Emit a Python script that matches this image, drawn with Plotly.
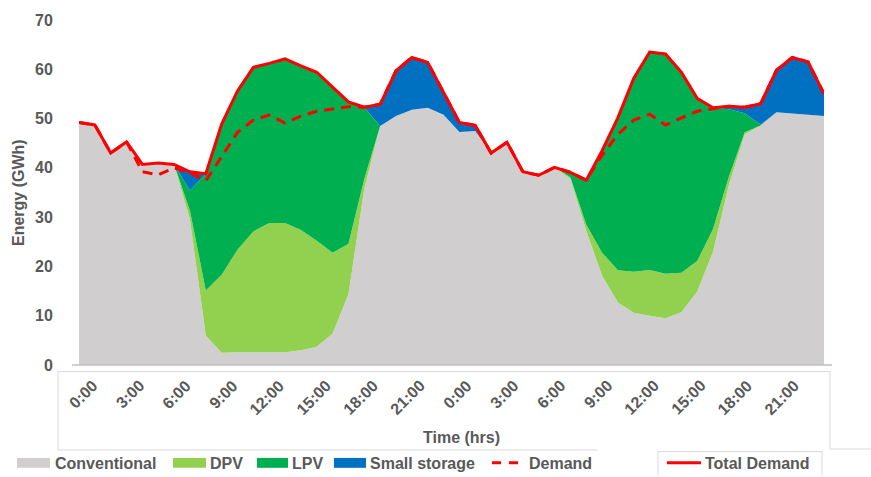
import plotly.graph_objects as go

# ---------------- data (GWh), 48 hourly points over two days ----------------
hours = list(range(48))
tick_labels = ["0:00", "3:00", "6:00", "9:00", "12:00", "15:00", "18:00", "21:00",
               "0:00", "3:00", "6:00", "9:00", "12:00", "15:00", "18:00", "21:00"]
tick_hours = [0, 3, 6, 9, 12, 15, 18, 21, 24, 27, 30, 33, 36, 39, 42, 45]

conventional = [49.2, 48.7, 43.0, 45.3, 40.7, 41.0, 40.7, 29.5, 6.0, 2.5,
                2.6, 2.6, 2.6, 2.6, 3.0, 3.7, 6.4, 14.4, 35.8, 48.5,
                50.5, 51.8, 52.2, 50.8, 47.3, 47.5, 43.0, 45.2, 39.2, 38.5,
                40.1, 37.8, 27.3, 18.1, 12.7, 10.6, 10.0, 9.5, 10.7, 14.9,
                23.0, 36.5, 46.8, 48.6, 51.3, 51.0, 50.8, 50.5]
dpv = [0, 0, 0, 0, 0, 0, 0, 1.8, 9.1, 15.8,
       20.8, 24.5, 26.2, 26.2, 24.4, 21.5, 16.4, 10.2, 2.0, 0,
       0, 0, 0, 0, 0, 0, 0, 0, 0, 0,
       0, 0.3, 1.2, 4.7, 6.5, 8.3, 9.3, 9.0, 8.0, 6.2,
       4.6, 1.7, 0.4, 0, 0, 0, 0, 0]
lpv = [0, 0, 0, 0, 0, 0, 0, 4.1, 23.7, 30.6,
       32.2, 33.3, 32.4, 33.3, 33.3, 34.2, 33.6, 28.8, 14.5, 0,
       0, 0, 0, 0, 0, 0, 0, 0, 0, 0,
       0, 1.0, 9.0, 20.7, 31.0, 39.3, 44.2, 44.6, 40.7, 33.0,
       24.6, 13.7, 3.9, 0.2, 0, 0, 0, 0]
small_storage = [0, 0, 0, 0, 0, 0, 0, 3.8, 0, 0,
                 0, 0, 0, 0, 0, 0, 0, 0, 0, 4.4,
                 9.2, 10.6, 9.2, 4.6, 1.9, 1.1, 0, 0, 0, 0,
                 0, 0, 0, 0, 0, 0, 0, 0, 0, 0,
                 0, 0.6, 1.2, 4.2, 8.5, 11.4, 10.7, 4.5]
total_demand = [49.2, 48.7, 43.0, 45.3, 40.7, 41.0, 40.7, 39.2, 38.8, 48.9,
                55.6, 60.4, 61.2, 62.1, 60.7, 59.4, 56.4, 53.4, 52.3, 52.9,
                59.7, 62.4, 61.4, 55.4, 49.2, 48.6, 43.0, 45.2, 39.2, 38.5,
                40.1, 39.1, 37.5, 43.5, 50.2, 58.2, 63.5, 63.1, 59.4, 54.1,
                52.2, 52.5, 52.3, 53.0, 59.8, 62.4, 61.5, 55.0]
demand = [49.2, 48.7, 43.0, 45.3, 39.2, 38.6, 40.0, 39.0, 37.4, 42.2,
          47.2, 49.7, 50.7, 49.1, 50.5, 51.5, 52.0, 52.4, 52.3, 52.9,
          59.7, 62.4, 61.4, 55.4, 49.2, 48.6, 43.0, 45.2, 39.2, 38.5,
          40.1, 39.1, 37.5, 42.6, 46.8, 49.7, 50.9, 48.7, 50.1, 51.5,
          52.0, 52.5, 52.3, 53.0, 59.8, 62.4, 61.5, 55.0]

# ---------------- style ----------------
C_GREY = "#D0CECE"
C_DPV = "#92D050"
C_LPV = "#00B050"
C_STO = "#0070C0"
C_RED = "#FF0000"
TXT = "#595959"
FONT = "Liberation Sans"
FRAME = "#D9D9D9"

L, R, T, B = 79, 47, 16, 112
WIDTH, HEIGHT = 871, 477
PW = WIDTH - L - R
PH = HEIGHT - T - B


def px(x):
    return (x - L) / PW


def py(y):
    return (HEIGHT - B - y) / PH


fig = go.Figure()
for name, vals, col in [("Conventional", conventional, C_GREY),
                        ("DPV", dpv, C_DPV),
                        ("LPV", lpv, C_LPV),
                        ("Small storage", small_storage, C_STO)]:
    fig.add_trace(go.Scatter(x=hours, y=vals, name=name, stackgroup="s",
                             mode="lines", line=dict(width=0, color=col),
                             fillcolor=col, hoverinfo="skip"))

fig.add_trace(go.Scatter(x=hours, y=demand, name="Demand", mode="lines",
                         line=dict(color=C_RED, width=3, dash="10px,7px")))
fig.add_trace(go.Scatter(x=hours, y=total_demand, name="Total Demand", mode="lines",
                         line=dict(color=C_RED, width=3)))

bold = dict(family=FONT, size=16, color=TXT, weight="bold")

annotations = []
# category labels live on a separate (slightly narrower) axis, as in the source
for h, lab in zip(tick_hours, tick_labels):
    annotations.append(dict(x=h, y=py(374), xref="x2", yref="paper", text=lab,
                            textangle=-45, xanchor="right", yanchor="top",
                            xshift=22, showarrow=False, font=bold))

annotations.append(dict(x=px(19), y=py(191), xref="paper", yref="paper",
                        text="Energy (GWh)", textangle=-90, showarrow=False,
                        xanchor="center", yanchor="middle", font=bold))
annotations.append(dict(x=px(461), y=py(438), xref="paper", yref="paper",
                        text="Time (hrs)", showarrow=False,
                        xanchor="center", yanchor="middle", font=bold))

shapes = []


def line(x0, y0, x1, y1, color=FRAME, w=1):
    shapes.append(dict(type="line", xref="paper", yref="paper",
                       x0=px(x0), y0=py(y0), x1=px(x1), y1=py(y1),
                       line=dict(color=color, width=w)))


# x-axis baseline
line(72, 365, 832, 365, color="#BFBFBF", w=1.5)
# frame around the category axis area
line(58, 371.5, 830, 371.5)
line(58, 371.5, 58, 451)
line(830, 371.5, 830, 450)
line(830, 450, 871, 450)
line(58, 451, 597, 451)
# box around "Total Demand" legend
line(658, 452.5, 822, 452.5)
line(658, 452.5, 658, 477)
line(822, 452.5, 822, 477)

# custom legend
LY = 464
legend_items = [
    ("rect", C_GREY, 17, 50, "Conventional", 53),
    ("rect", C_DPV, 173, 206, "DPV", 208),
    ("rect", C_LPV, 257, 288, "LPV", 290),
    ("rect", C_STO, 334, 366, "Small storage", 368),
    ("dash", C_RED, 492, 525, "Demand", 527),
    ("line", C_RED, 667, 701, "Total Demand", 703),
]
for kind, col, x0, x1, label, tx in legend_items:
    if kind == "rect":
        shapes.append(dict(type="rect", xref="paper", yref="paper",
                           x0=px(x0), x1=px(x1), y0=py(LY + 5), y1=py(LY - 5),
                           fillcolor=col, line=dict(width=0)))
    elif kind == "dash":
        shapes.append(dict(type="line", xref="paper", yref="paper",
                           x0=px(x0), x1=px(x1), y0=py(LY), y1=py(LY),
                           line=dict(color=col, width=3, dash="9px,8px")))
    else:
        shapes.append(dict(type="line", xref="paper", yref="paper",
                           x0=px(x0), x1=px(x1), y0=py(LY), y1=py(LY),
                           line=dict(color=col, width=3)))
    annotations.append(dict(x=px(tx), y=py(LY + 1), xref="paper", yref="paper",
                            text=label, showarrow=False, xanchor="left",
                            yanchor="middle", font=bold))

fig.update_layout(
    width=WIDTH, height=HEIGHT,
    margin=dict(l=L, r=R, t=T, b=B, pad=0),
    paper_bgcolor="white", plot_bgcolor="white",
    showlegend=False,
    xaxis=dict(range=[0, 47], showgrid=False, zeroline=False, showline=False,
               showticklabels=False, ticks=""),
    xaxis2=dict(range=[-0.13, 47.63], overlaying="x", visible=False),
    yaxis=dict(range=[0, 70], tickvals=[0, 10, 20, 30, 40, 50, 60, 70],
               showgrid=False, zeroline=False, showline=False,
               ticks="outside", ticklen=22, tickcolor="rgba(0,0,0,0)",
               tickfont=bold),
    annotations=annotations,
    shapes=shapes,
)

fig.write_html("out.html",
               config={"displayModeBar": False},
               post_script="document.body.style.margin='0';"
                           "document.body.style.overflow='hidden';")
